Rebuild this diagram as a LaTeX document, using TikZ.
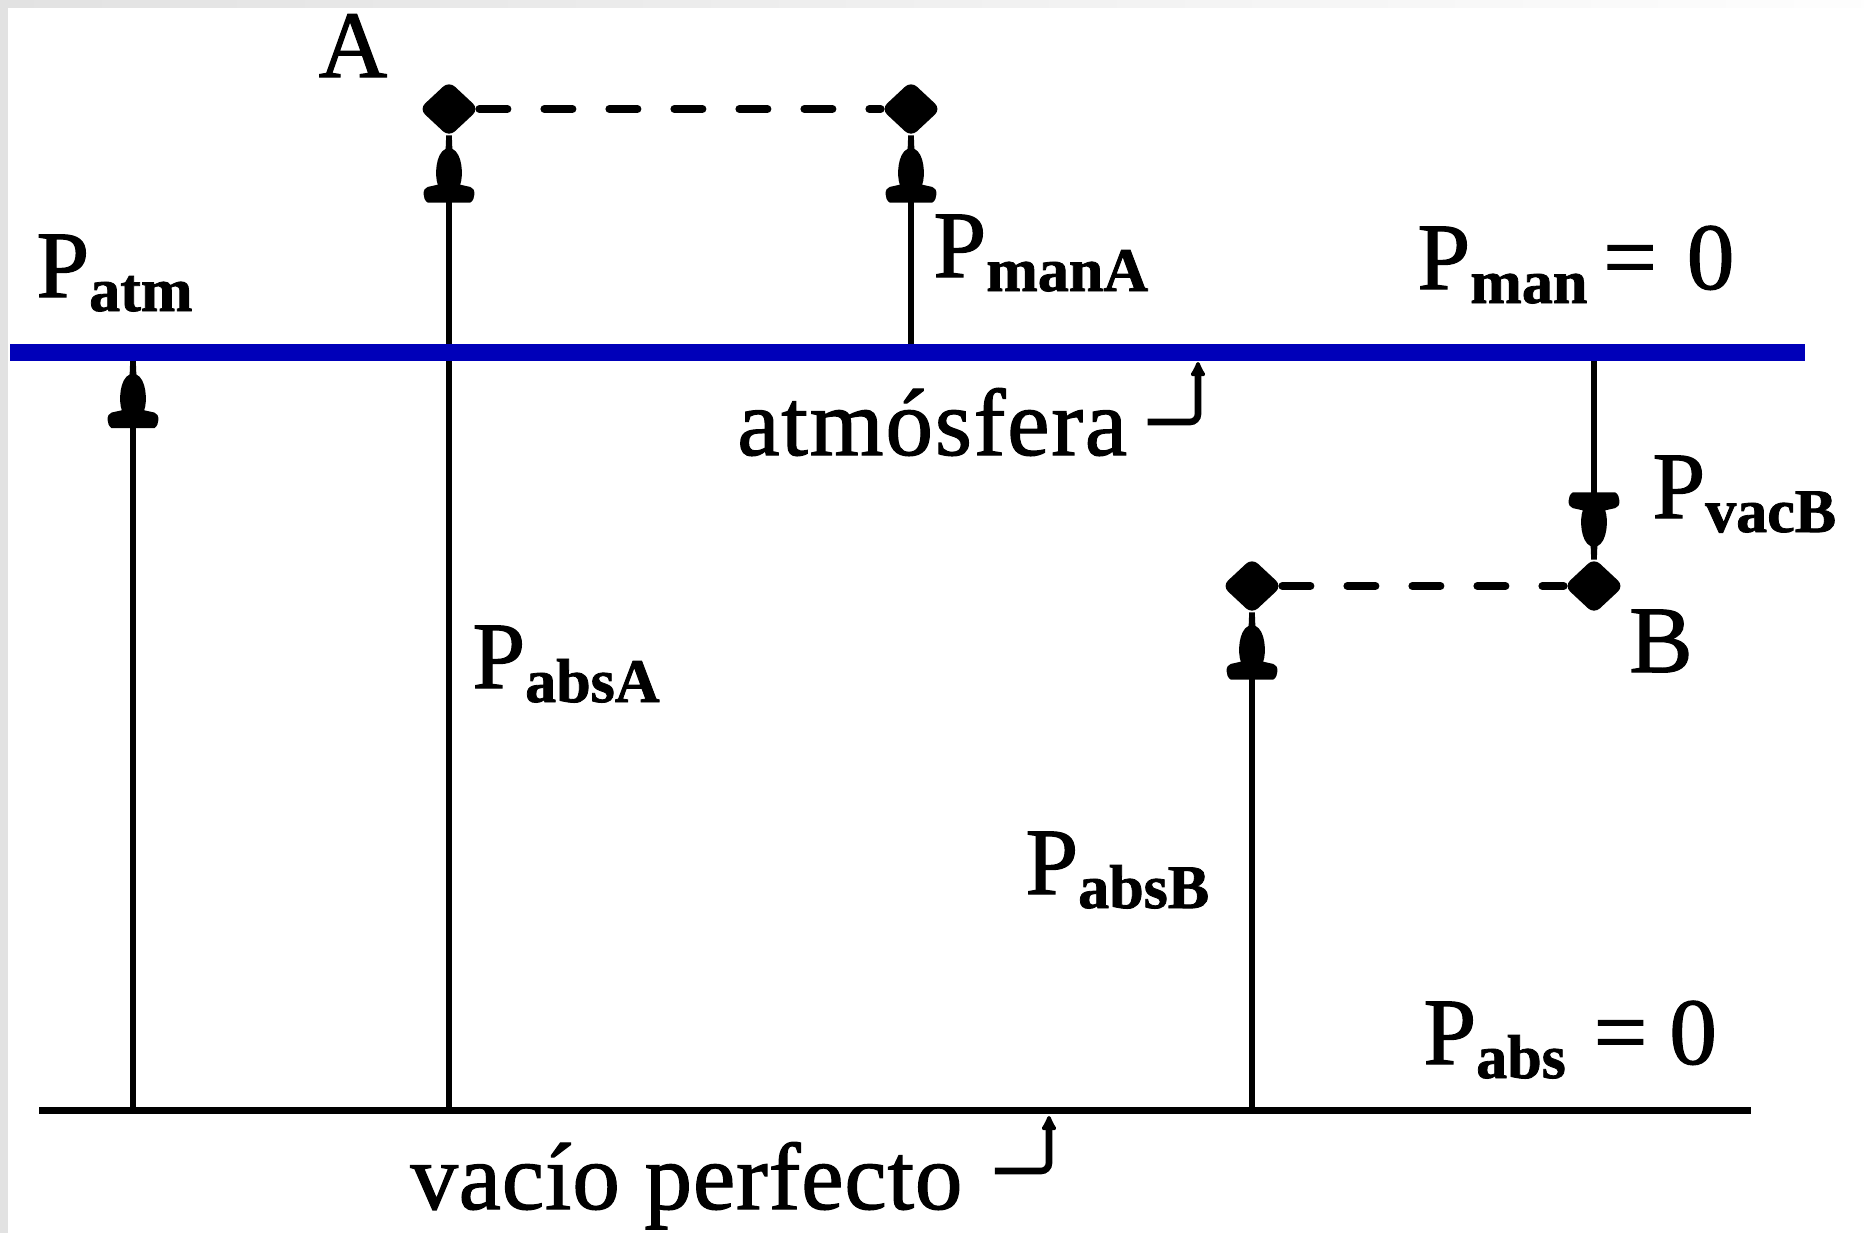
\documentclass[tikz,border=0pt]{standalone}
\usepackage{fontspec}
\setmainfont{Liberation Serif}
\newfontfamily\heavyserif{Liberation Serif}[FakeBold=1.3]
\newfontfamily\subserif{Liberation Serif Bold}[FakeBold=1.3]
\usetikzlibrary{arrows.meta,shapes.geometric}
\definecolor{atmblue}{RGB}{0,0,185}
\definecolor{edgegray}{RGB}{226,226,226}
\newcommand{\subtxt}[1]{\raisebox{-7pt}{\subserif\fontsize{31}{31}\selectfont #1}}
\begin{document}
\begin{tikzpicture}[x=0.5pt,y=-0.5pt,
  lbl/.style={inner sep=0pt,anchor=base west,font=\heavyserif\fontsize{47.5}{50}\selectfont},
  ptmark/.style={diamond,fill=black,inner sep=0pt,minimum width=30pt,minimum height=28pt,rounded corners=4pt},
  vline/.style={line width=3.3pt,draw=black},
  dashline/.style={line width=4pt,line cap=round,dash pattern=on 14pt off 18.5pt},
  pointer/.style={line width=3.3pt,rounded corners=4pt,-{Latex[length=9pt,width=9pt,round]}},
  bell/.pic={\fill[scale=1.12] (-2.5,0) -- (2.5,0) -- (3,12) .. controls (12,16) and (13,36) .. (10,44)
      -- (19,46) .. controls (24,47) and (24,57) .. (19,60) -- (-19,60)
      .. controls (-24,57) and (-24,47) .. (-19,46) -- (-10,44)
      .. controls (-13,36) and (-12,16) .. (-3,12) -- cycle;}]
\useasboundingbox (0,0) rectangle (1864,1233);
% frame of the screenshot
\fill[edgegray] (0,0) rectangle (8,1233);
\shade[left color=edgegray,right color=white!95!edgegray] (0,0) rectangle (1864,7);
% points
\node[ptmark] (A1) at (449,109) {};
\node[ptmark] (A2) at (911,109) {};
\node[ptmark] (B1) at (1252,586) {};
\node[ptmark] (B2) at (1594,586) {};
% reference coordinates
\coordinate (atmL) at (10,352);
\coordinate (atmR) at (1805,352);
\coordinate (vacL) at (39,1110);
\coordinate (vacR) at (1751,1110);
\coordinate (bPatm) at (133,1110);
\coordinate (tPatm) at (133,361);
\coordinate (bA) at (449,1110);
\coordinate (mA) at (911,352);
\coordinate (mB) at (1594,352);
\coordinate (bB) at (1252,1110);
\coordinate (atmTip) at (1198,362);
\coordinate (vacTip) at (1049,1116);
% dashed links
\draw[dashline] (A1) -- (A2);
\draw[dashline] (B1) -- (B2);
% pressure arrows
\draw[vline] (bPatm) -- (tPatm);
\draw[vline] (bA) -- (A1.south);
\draw[vline] (mA) -- (A2.south);
\draw[vline] (mB) -- (B2.north);
\draw[vline] (bB) -- (B1.south);
\pic at (tPatm) {bell};
\pic at ([yshift=1pt]A1.south) {bell};
\pic at ([yshift=1pt]A2.south) {bell};
\pic at ([yshift=1pt]B1.south) {bell};
\pic[yscale=-1] at ([yshift=-1pt]B2.north) {bell};
% reference lines
\draw[atmblue,line width=8.5pt] (atmL) -- (atmR);
\draw[line width=3.5pt] (vacL) -- (vacR);
% labels
\node[lbl,anchor=base] (lA) at (353,77) {A};
\node[lbl,anchor=base] (lB) at (1661,672) {B};
\node[lbl] (Patm) at (36,297) {P\subtxt{atm}};
\node[lbl] (PmanA) at (933,277) {P\subtxt{manA}};
\node[lbl] (Pman0) at (1417,289) {P\subtxt{man}\hspace{8pt}=\hspace{15pt}0};
\node[lbl] (PabsA) at (472,688) {P\subtxt{absA}};
\node[lbl] (PabsB) at (1025,894) {P\subtxt{absB}};
\node[lbl] (Pabs0) at (1423,1064) {P\subtxt{abs}\hspace{14pt}=\hspace{11pt}0};
\node[lbl] (PvacB) at (1652,518) {P\subtxt{vacB}};
\node[lbl] (atmlbl) at (737,455) {\addfontfeatures{LetterSpace=2}atmósfera};
\node[lbl] (vaclbl) at (410,1209) {\addfontfeatures{LetterSpace=1}vacío perfecto};
% pointers
\draw[pointer] ([xshift=10pt,yshift=16.5pt]atmlbl.base east) -| (atmTip);
\draw[pointer] ([xshift=16pt,yshift=19pt]vaclbl.base east) -| (vacTip);
\end{tikzpicture}
\end{document}
